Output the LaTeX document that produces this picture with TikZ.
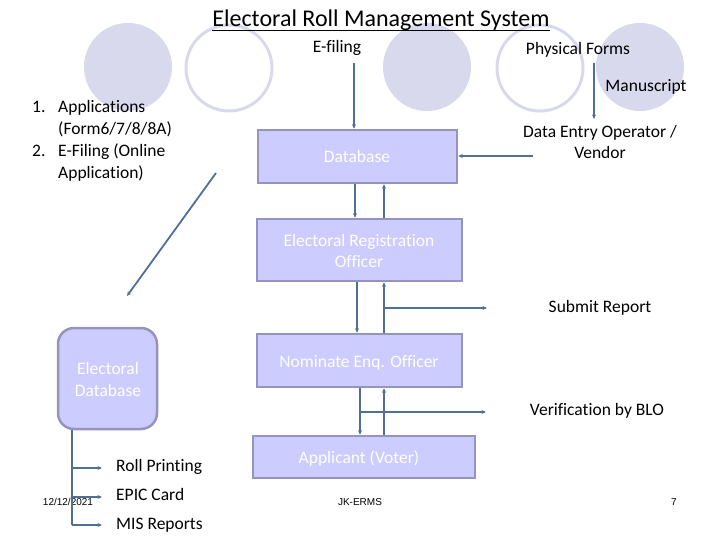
\documentclass[tikz,border=0pt]{standalone}
\usepackage{fontspec}
\setmainfont{Carlito}[Ligatures=NoCommon]
\newfontfamily\footfont{Liberation Sans}
\usetikzlibrary{arrows.meta}
\definecolor{circfill}{RGB}{217,217,238}
\definecolor{boxfill}{RGB}{204,204,255}
\definecolor{boxline}{RGB}{148,148,190}
\definecolor{linkcol}{RGB}{80,110,150}
\tikzset{
  bgcirc/.style={circle, fill=circfill, draw=none, minimum size=88pt, inner sep=0pt},
  ringcirc/.style={circle, draw=circfill, line width=3pt, minimum size=86pt, inner sep=0pt},
  flowbox/.style={rectangle, fill=boxfill, draw=boxline, line width=2.5pt, text=white,
     align=center, inner sep=0pt},
  lbl/.style={font=\fontsize{17.5}{21}\selectfont, inner sep=0pt, anchor=base},
  lblw/.style={font=\fontsize{17.5}{21}\selectfont, inner sep=0pt, anchor=base west},
  wtxt/.style={font=\fontsize{17.5}{21}\selectfont, inner sep=0pt, anchor=base, text=white},
  foot/.style={font=\footfont\fontsize{10}{12}\selectfont, inner sep=0pt, anchor=base},
  link/.style={draw=linkcol, line width=1.8pt},
  arr/.style={link, -{Stealth[length=4.5pt,width=4pt]}},
}
\begin{document}
\begin{tikzpicture}[x=1pt,y=-1pt]
\useasboundingbox (0,0) rectangle (720,540);
% background circles
\node[bgcirc] (c1) at (128,67) {};
\node[ringcirc] (c2) at (229,68) {};
\node[bgcirc] (c3) at (427,67) {};
\node[ringcirc] (c4) at (540,68) {};
\node[bgcirc] (c5) at (640,67) {};
% title
\node[font=\fontsize{24}{28}\selectfont, inner sep=0pt, anchor=base] (title) at (381,27) {Electoral Roll Management System};
\draw[line width=1.6pt] ([yshift=-3.5pt]title.base west) -- ([yshift=-3.5pt]title.base east);
% top labels
\node[lbl] (efil) at (337,53) {E-filing};
\node[lbl] (phys) at (578,55) {Physical Forms};
\node[lbl] (manu) at (646,92) {Manuscript};
\node[lbl] (deo1) at (600,138) {Data Entry Operator /};
\node[lbl] (deo2) at (600,159) {Vendor};
% list
\node[lblw] (n1) at (32,113) {1.};
\node[lblw] (l1) at (58,113) {Applications};
\node[lblw] (l2) at (58,135) {(Form6/7/8/8A)};
\node[lblw] (n2) at (32,157) {2.};
\node[lblw] (l3) at (58,157) {E-Filing (Online};
\node[lblw] (l4) at (58,179) {Application)};
% boxes
\node[flowbox, minimum width=199pt, minimum height=53pt] (db) at (357.5,156.5) {};
\node[wtxt] (dbt) at (357,163) {Database};
\node[flowbox, minimum width=205pt, minimum height=62pt] (ero) at (359.5,250) {};
\node[wtxt] (erot1) at (359,246) {Electoral Registration};
\node[wtxt] (erot2) at (359,267) {Officer};
\node[flowbox, minimum width=205pt, minimum height=53pt] (neo) at (359.5,360.5) {};
\node[wtxt] (neot) at (359,367) {Nominate Enq. Officer};
\node[flowbox, minimum width=222pt, minimum height=42pt] (app) at (364,457) {};
\node[wtxt] (appt) at (359,463) {Applicant (Voter)};
\node[flowbox, rounded corners=16pt, minimum width=99pt, minimum height=101pt] (edb) at (107.5,378.5) {};
\node[wtxt] (edbt1) at (108,374) {Electoral};
\node[wtxt] (edbt2) at (108,396) {Database};
% right labels
\node[lbl] (sub) at (600,312) {Submit Report};
\node[lbl] (ver) at (597,415) {Verification by BLO};
% output labels
\node[lblw] (roll) at (116,471) {Roll Printing};
\node[lblw] (epic) at (116,500) {EPIC Card};
\node[lblw] (mis) at (116,529) {MIS Reports};
% footer
\node[foot] (date) at (68,505) {12/12/2021};
\node[foot] (jk) at (360,505) {JK-ERMS};
\node[foot] (pg) at (674,505) {7};
% connectors
\coordinate (ef0) at (354,63);
\draw[arr] (ef0) -- (ef0 |- db.north);
\coordinate (pf0) at (594,63);
\coordinate (pf1) at (594,119);
\draw[arr] (pf0) -- (pf1);
\coordinate (de0) at (533,156);
\draw[arr] (de0) -- (db.east |- de0);
% db <-> ero
\coordinate (xa) at (355,0);
\coordinate (xb) at (384,0);
\draw[arr] (db.south -| xa) -- (ero.north -| xa);
\draw[arr] (ero.north -| xb) -- (db.south -| xb);
% ero <-> neo
\coordinate (xc) at (357,0);
\draw[arr] (ero.south -| xc) -- (neo.north -| xc);
\draw[arr] (neo.north -| xb) -- (ero.south -| xb);
\coordinate (sr0) at (384,308);
\coordinate (sr1) at (487,308);
\draw[arr] (sr0) -- (sr1);
% neo <-> app
\coordinate (xd) at (360,0);
\draw[arr] (neo.south -| xd) -- (app.north -| xd);
\draw[arr] (app.north -| xb) -- (neo.south -| xb);
\coordinate (vb0) at (360,412);
\coordinate (vb1) at (486,412);
\draw[arr] (vb0) -- (vb1);
% diagonal
\coordinate (dg0) at (216,173);
\coordinate (dg1) at (127,296);
\draw[arr] (dg0) -- (dg1);
% electoral database outputs
\coordinate (st0) at (72,525);
\draw[link] (edb.south -| st0) -- (st0);
\coordinate (b1) at (72,468);
\coordinate (b2) at (72,497);
\draw[arr] (b1) -- (102,468);
\draw[arr] (b2) -- (102,497);
\draw[arr] (st0) -- (102,525);
\end{tikzpicture}
\end{document}
